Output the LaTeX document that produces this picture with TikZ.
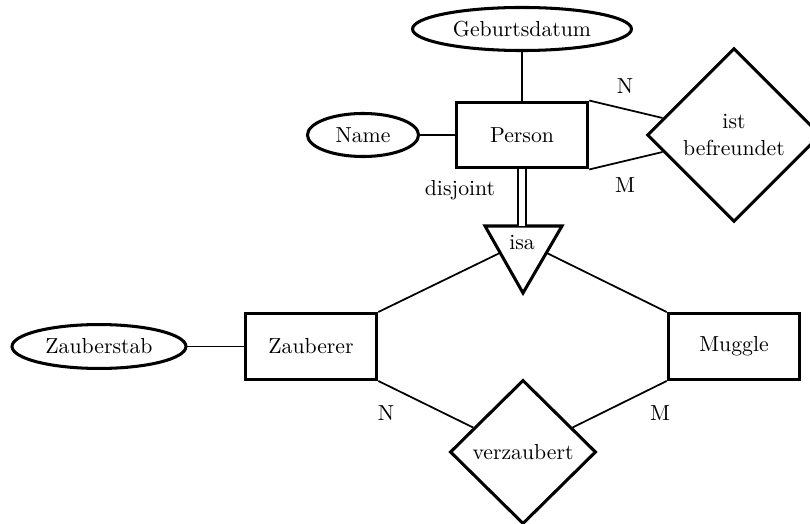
\documentclass[tikz,border=0pt]{standalone}
\usetikzlibrary{shapes.geometric,calc}
\begin{document}
\begin{tikzpicture}[x=0.46pt,y=-0.46pt,
  entity/.style={draw,rectangle,line width=1.4pt,inner sep=0pt,minimum width=60.5pt,minimum height=30.3pt},
  attr/.style={draw,ellipse,line width=1.4pt,inner sep=0pt,minimum height=19.8pt},
  rel/.style={draw,diamond,line width=1.4pt,inner sep=0pt,align=center},
  lab/.style={inner sep=0pt},
  conn/.style={line width=0.8pt}]
\useasboundingbox (0,0) rectangle (810,524);
% entities
\node[entity] (P) at (522,135) {Person};
\node[entity] (Z) at (311,346.5) {Zauberer};
\node[entity] (M) at (734,346.5) {Muggle};
% attributes
\node[attr,minimum width=100.7pt] (G) at (522,29) {Geburtsdatum};
\node[attr,minimum width=51.1pt] (N) at (363,135) {Name};
\node[attr,minimum width=80pt,minimum height=20.2pt] (S) at (99,346.5) {Zauberstab};
% relationships
\node[rel,minimum width=80pt,minimum height=80pt] (B) at (734,135) {ist\\befreundet};
\node[rel,minimum width=67.2pt,minimum height=66.3pt] (V) at (523,452) {verzaubert};
% isa triangle
\coordinate (tl) at (485,226);
\coordinate (tr) at (562,226);
\coordinate (tb) at (523,293);
\draw[line width=1.4pt,line join=miter] (tl) -- (tr) -- (tb) -- cycle;
\node[lab] (isa) at (522,242) {isa};
\coordinate (il) at ($(tl)!0.4!(tb)$);
\coordinate (ir) at ($(tr)!0.4!(tb)$);
% connectors
\draw[conn] (G.south) -- (P.north);
\draw[conn] (N.east) -- (P.west);
\draw[conn] (S.east) -- (Z.west);
\draw[conn] (P.north east) -- (B);
\draw[conn] (P.south east) -- (B);
\draw[conn] (Z.north east) -- (il);
\draw[conn] (M.north west) -- (ir);
\draw[conn] (Z.south east) -- (V);
\draw[conn] (M.south west) -- (V);
\draw[line width=0.9pt,double,double distance=2.8pt] (P.south) -- (P.south |- tl);
% labels
\node[lab] (ldis) at (460,190) {disjoint};
\node[lab] (lN1) at (625,86) {N};
\node[lab] (lM1) at (625,185) {M};
\node[lab] (lN2) at (386,413) {N};
\node[lab] (lM2) at (660,413) {M};
\end{tikzpicture}
\end{document}
